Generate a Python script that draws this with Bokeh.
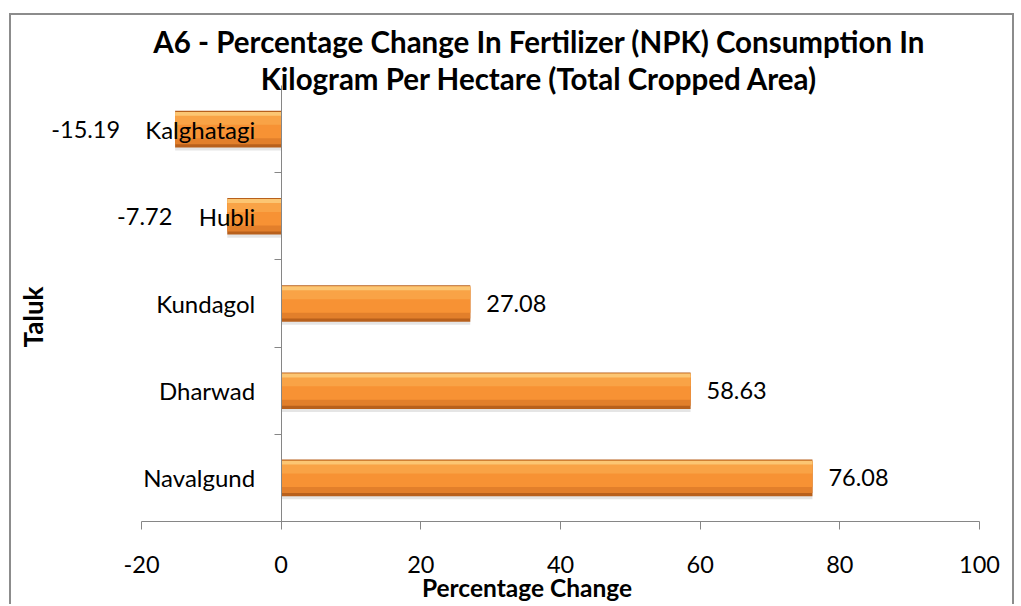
import math
from bokeh.plotting import figure
from bokeh.models import Range1d, LinearAxis, FixedTicker, ColumnDataSource, Label
from bokeh.transform import dodge
from bokeh.core.properties import value
from bokeh.embed import file_html
from bokeh.resources import INLINE

# ---- data ----
talukas = ["Kalghatagi", "Hubli", "Kundagol", "Dharwad", "Navalgund"]
pct_change = [-15.19, -7.72, 27.08, 58.63, 76.08]
x_ticks = [-20, 0, 20, 40, 60, 80, 100]
title_lines = ["A6 - Percentage Change In Fertilizer (NPK) Consumption In",
               "Kilogram Per Hectare (Total Cropped Area)"]
x_title = "Percentage Change"
y_title = "Taluk"

n = len(talukas)
ypos = [n - i for i in range(n)]
labels = [f"{v:.2f}" for v in pct_change]
aligns = ["left" if v >= 0 else "right" for v in pct_change]
xoffs = [16 if v >= 0 else -55 for v in pct_change]
src = ColumnDataSource(dict(y=ypos, v=pct_change, zero=[0] * n, lab=labels,
                            align=aligns, xoff=xoffs))

FONT = "Lato"
AX = "#868686"

# frame covers the whole canvas; axes are placed at fixed data locations
p = figure(width=1005, height=591, output_backend="svg", toolbar_location=None,
           x_range=Range1d(-38.62, 105.30), y_range=Range1d(-0.475, 6.303),
           x_axis_location=None, y_axis_location=None,
           min_border_left=0, min_border_right=0, min_border_top=0, min_border_bottom=0)
p.styles = {"margin-top": "13px", "margin-left": "9px",
            "border-top": "2px solid #8c8c8c", "border-left": "2px solid #8c8c8c",
            "border-right": "2px solid #8c8c8c"}
p.outline_line_color = None
p.grid.visible = False
p.background_fill_color = "white"
p.border_fill_color = "white"

# x axis along the bottom of the category bands
xa = LinearAxis(fixed_location=0.5, bounds=(x_ticks[0], x_ticks[-1]),
                ticker=FixedTicker(ticks=x_ticks, minor_ticks=[]),
                major_label_overrides={float(t): str(t) for t in x_ticks})
xa.axis_line_color = AX
xa.major_tick_line_color = AX
xa.major_tick_out = 8
xa.major_tick_in = 0
xa.minor_tick_line_color = None
xa.major_label_text_font = FONT
xa.major_label_text_font_size = "23.5px"
xa.major_label_text_color = "black"
xa.major_label_standoff = 27
p.add_layout(xa, "below")

# y axis at x = 0
ya = LinearAxis(fixed_location=0, bounds=(0.5, n + 0.5),
                ticker=FixedTicker(ticks=ypos, minor_ticks=[y + 0.5 for y in ypos[1:]]),
                major_label_overrides={float(y): t for y, t in zip(ypos, talukas)})
ya.axis_line_color = AX
ya.major_tick_out = 0
ya.major_tick_in = 0
ya.major_tick_line_color = None
ya.minor_tick_line_color = AX
ya.minor_tick_out = 7
ya.minor_tick_in = 0
ya.major_label_text_font = FONT
ya.major_label_text_font_size = "24px"
ya.major_label_text_color = "black"
ya.major_label_standoff = 19
p.add_layout(ya, "left")

# bars with a simple vertical gradient
H = 0.42
p.hbar(y=dodge("y", -0.035, range=p.y_range), left="zero", right="v", height=H,
       source=src, fill_color="black", fill_alpha=0.10, line_color=None)
p.hbar(y="y", left="zero", right="v", height=H, source=src,
       fill_color="#B8601C", line_color=None)
p.hbar(y=dodge("y", 0.012, range=p.y_range), left="zero", right="v", height=H - 0.05,
       source=src, fill_color="#E27F2B", line_color=None)
p.hbar(y=dodge("y", 0.04, range=p.y_range), left="zero", right="v", height=H - 0.13,
       source=src, fill_color="#F79234", line_color=None)
p.hbar(y=dodge("y", 0.11, range=p.y_range), left="zero", right="v", height=0.12,
       source=src, fill_color="#F9A346", line_color=None)
p.hbar(y=dodge("y", 0.175, range=p.y_range), left="zero", right="v", height=0.045,
       source=src, fill_color="#FCC673", line_color=None)

# value labels
p.text(x="v", y="y", text="lab", source=src, x_offset="xoff", text_align="align",
       text_baseline="middle", text_font=value(FONT), text_font_size="23.5px",
       text_color="black")

# titles
p.add_layout(Label(x=36.95, y=6.01, text=title_lines[0], text_align="center",
                   text_baseline="alphabetic", text_font=FONT, text_font_style="bold",
                   text_font_size="29.5px", text_color="black"))
p.add_layout(Label(x=36.95, y=5.581, text=title_lines[1], text_align="center",
                   text_baseline="alphabetic", text_font=FONT, text_font_style="bold",
                   text_font_size="29.5px", text_color="black"))
p.add_layout(Label(x=35.2, y=-0.255, text=x_title, text_align="center",
                   text_baseline="alphabetic", text_font=FONT, text_font_style="bold",
                   text_font_size="24.5px", text_color="black"))
p.add_layout(Label(x=-35.5, y=2.845, text=y_title, angle=math.pi / 2,
                   text_align="center", text_baseline="middle", text_font=FONT,
                   text_font_style="bold", text_font_size="26px", text_color="black"))

open("out.html", "w").write(file_html(p, INLINE))
